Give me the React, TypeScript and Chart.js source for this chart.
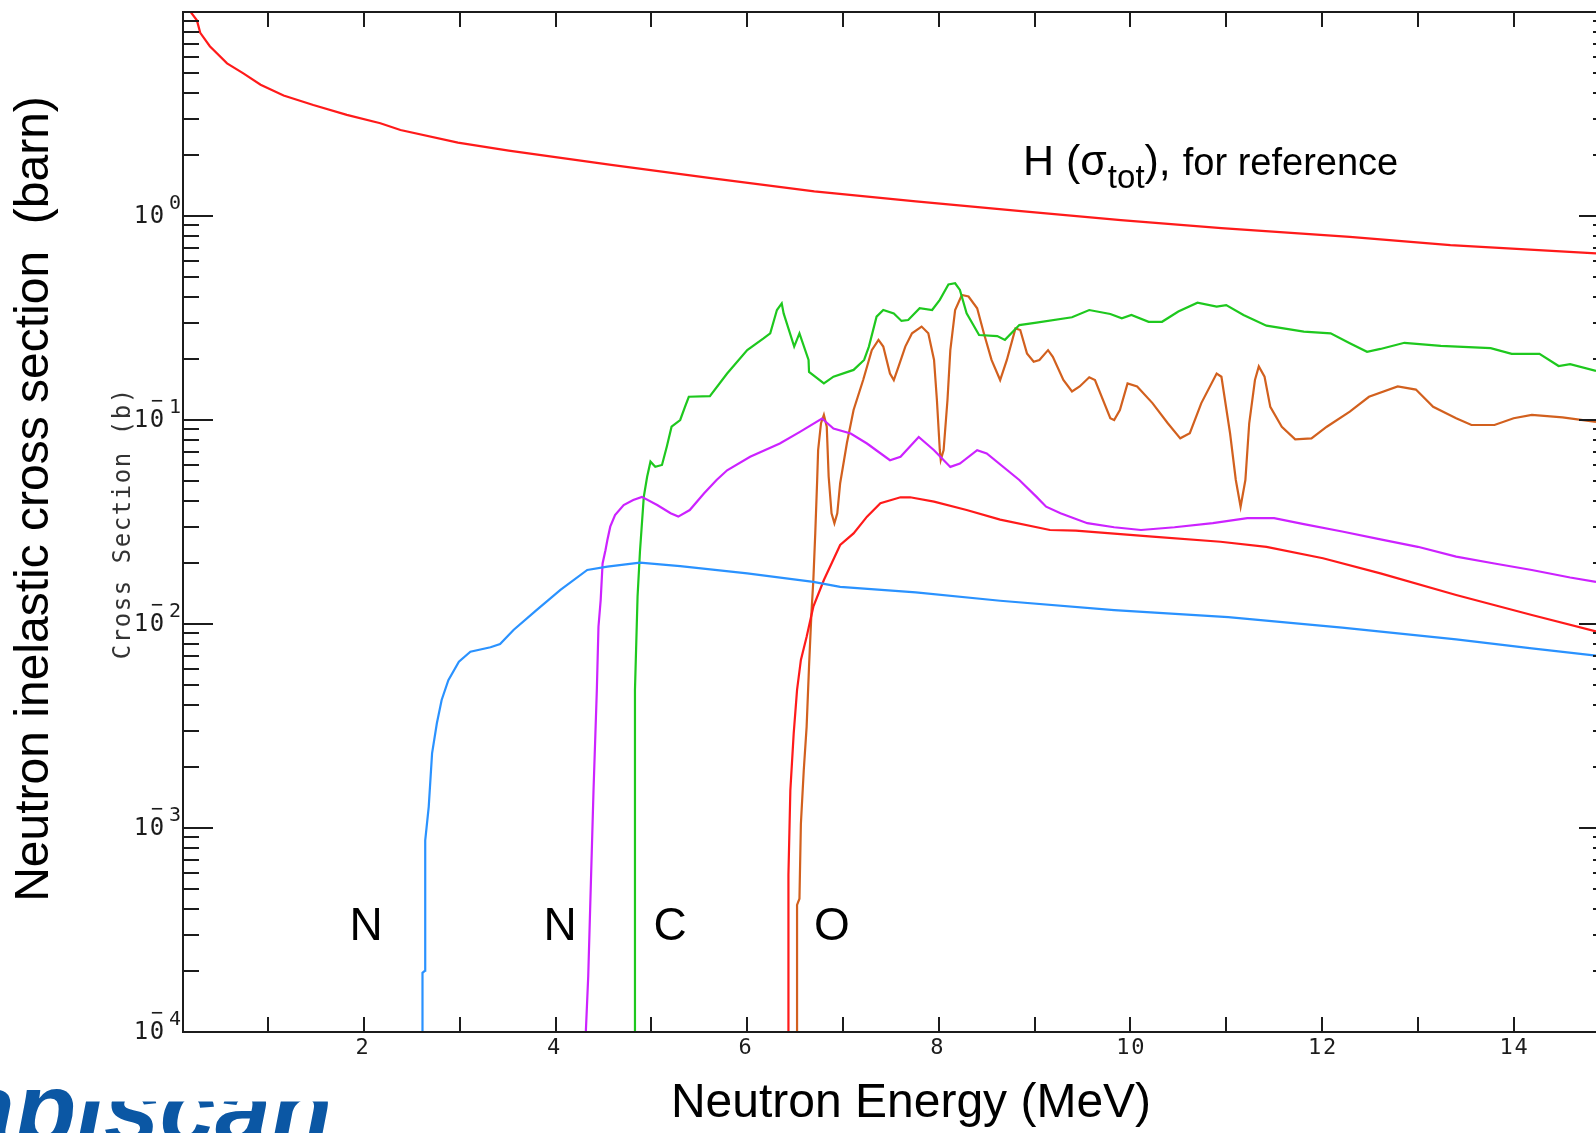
import React, { useEffect, useRef } from "react";
import { Chart, registerables } from "chart.js";

Chart.register(...registerables);

// ---------- axis ranges & ticks ----------
const X_MIN = 0.11;
const X_MAX = 14.86;
const Y_MIN = 1e-4;
const Y_MAX = 10;
const xTickValues = [1, 2, 3, 4, 5, 6, 7, 8, 9, 10, 11, 12, 13, 14];
const xTickLabels = ["2", "4", "6", "8", "10", "12", "14"];
const yDecadeExponents = [0, -1, -2, -3, -4];
const yMinorMantissas = [1, 2, 3, 4, 5, 6, 7, 8, 9];

// ---------- series: H total (reference) ----------
const hEnergy = [0.17, 0.19, 0.255, 0.29, 0.39, 0.57, 0.74, 0.92, 1.16, 1.47, 1.82, 2.17, 2.38, 2.98, 3.51, 4.58, 5.64, 6.7, 7.76, 8.83, 9.9, 10.95, 12.29, 13.34, 14.86];
const hSigma = [10.8, 10.0, 9.1, 7.9, 6.8, 5.6, 5.0, 4.4, 3.9, 3.5, 3.13, 2.85, 2.64, 2.29, 2.09, 1.78, 1.53, 1.32, 1.18, 1.06, 0.955, 0.873, 0.79, 0.72, 0.656];

// ---------- series: N (first, blue) ----------
const n1Energy = [2.61, 2.61, 2.637, 2.637, 2.64, 2.675, 2.71, 2.76, 2.81, 2.88, 2.99, 3.11, 3.32, 3.42, 3.56, 3.8, 4.05, 4.33, 4.54, 4.88, 5.3, 6.0, 6.69, 6.97, 7.76, 8.64, 9.83, 11.02, 12.21, 13.4, 14.19, 14.86];
const n1Sigma = [1e-5, 1.95e-4, 2.0e-4, 5.6e-4, 8.7e-4, 1.27e-3, 2.32e-3, 3.26e-3, 4.24e-3, 5.31e-3, 6.53e-3, 7.31e-3, 7.69e-3, 7.98e-3, 9.35e-3, 0.0117, 0.0147, 0.0184, 0.0191, 0.02, 0.0192, 0.0177, 0.0161, 0.0152, 0.0143, 0.013, 0.0117, 0.0108, 0.0096, 0.0084, 0.0076, 0.007];

// ---------- series: N (second, magenta) ----------
const n2Energy = [4.315, 4.315, 4.34, 4.36, 4.395, 4.43, 4.447, 4.47, 4.49, 4.52, 4.54, 4.57, 4.62, 4.71, 4.81, 4.9, 5.06, 5.2, 5.28, 5.4, 5.55, 5.68, 5.79, 6.03, 6.34, 6.55, 6.78, 6.9, 7.08, 7.25, 7.49, 7.6, 7.79, 7.95, 8.12, 8.22, 8.4, 8.5, 8.84, 9.02, 9.12, 9.27, 9.55, 9.83, 10.11, 10.46, 10.86, 11.22, 11.5, 11.81, 12.21, 12.61, 13.0, 13.4, 13.8, 14.19, 14.59, 14.86];
const n2Sigma = [1e-5, 1e-4, 1.87e-4, 4e-4, 1.51e-3, 4.75e-3, 9.7e-3, 0.0131, 0.0198, 0.023, 0.0258, 0.03, 0.0342, 0.0383, 0.0405, 0.042, 0.0383, 0.0349, 0.0336, 0.0362, 0.0437, 0.0508, 0.0567, 0.066, 0.0767, 0.0875, 0.1017, 0.0908, 0.0859, 0.0767, 0.0635, 0.066, 0.0826, 0.0711, 0.0589, 0.0612, 0.0711, 0.0685, 0.0508, 0.042, 0.0376, 0.0349, 0.0312, 0.0298, 0.0289, 0.0298, 0.0312, 0.033, 0.033, 0.0309, 0.0284, 0.026, 0.0239, 0.0214, 0.0198, 0.0184, 0.0169, 0.0161];

// ---------- series: C (green) ----------
const cEnergy = [4.82, 4.828, 4.855, 4.88, 4.92, 4.955, 4.99, 5.04, 5.11, 5.16, 5.21, 5.3, 5.35, 5.39, 5.61, 5.79, 6.0, 6.17, 6.24, 6.31, 6.36, 6.38, 6.49, 6.545, 6.64, 6.645, 6.8, 6.9, 7.11, 7.22, 7.27, 7.35, 7.42, 7.53, 7.61, 7.68, 7.8, 7.93, 8.01, 8.1, 8.17, 8.22, 8.29, 8.42, 8.61, 8.69, 8.84, 9.02, 9.39, 9.57, 9.79, 9.91, 10.01, 10.19, 10.33, 10.5, 10.7, 10.9, 11.0, 11.18, 11.42, 11.81, 12.09, 12.29, 12.47, 12.61, 12.86, 13.24, 13.76, 13.98, 14.27, 14.47, 14.59, 14.86];
const cSigma = [1e-5, 4.75e-3, 0.0136, 0.0226, 0.042, 0.0527, 0.0625, 0.059, 0.0602, 0.074, 0.0927, 0.1, 0.116, 0.13, 0.131, 0.169, 0.22, 0.251, 0.266, 0.346, 0.373, 0.333, 0.229, 0.266, 0.197, 0.172, 0.151, 0.163, 0.176, 0.197, 0.229, 0.321, 0.346, 0.333, 0.306, 0.309, 0.353, 0.346, 0.388, 0.462, 0.468, 0.434, 0.333, 0.261, 0.258, 0.247, 0.292, 0.3, 0.319, 0.346, 0.331, 0.315, 0.327, 0.303, 0.303, 0.34, 0.376, 0.36, 0.366, 0.327, 0.29, 0.271, 0.266, 0.238, 0.216, 0.223, 0.239, 0.231, 0.225, 0.211, 0.211, 0.184, 0.188, 0.174];

// ---------- series: O (first, red) ----------
const o1Energy = [6.43, 6.43, 6.45, 6.485, 6.52, 6.56, 6.62, 6.69, 6.8, 6.97, 7.11, 7.25, 7.39, 7.6, 7.7, 7.95, 8.29, 8.64, 9.16, 9.43, 10.23, 10.94, 11.42, 12.01, 12.61, 13.4, 14.19, 14.86];
const o1Sigma = [1e-5, 5.9e-4, 1.53e-3, 2.91e-3, 4.75e-3, 6.67e-3, 8.67e-3, 0.01216, 0.01643, 0.0244, 0.0278, 0.0336, 0.0391, 0.0418, 0.0418, 0.0398, 0.0362, 0.0325, 0.0289, 0.0287, 0.0268, 0.0253, 0.0239, 0.021, 0.0177, 0.01387, 0.01107, 0.0092];

// ---------- series: O (second, brown) ----------
const o2Energy = [6.52, 6.52, 6.545, 6.56, 6.59, 6.62, 6.645, 6.67, 6.69, 6.71, 6.73, 6.74, 6.77, 6.8, 6.83, 6.85, 6.88, 6.91, 6.94, 6.97, 7.04, 7.11, 7.21, 7.3, 7.37, 7.42, 7.49, 7.53, 7.58, 7.65, 7.72, 7.82, 7.89, 7.95, 7.98, 8.01, 8.02, 8.05, 8.09, 8.12, 8.17, 8.24, 8.31, 8.4, 8.47, 8.55, 8.64, 8.71, 8.8, 8.85, 8.92, 8.99, 9.05, 9.14, 9.19, 9.3, 9.39, 9.47, 9.57, 9.63, 9.79, 9.83, 9.89, 9.97, 10.07, 10.23, 10.39, 10.52, 10.62, 10.74, 10.9, 10.95, 11.04, 11.1, 11.15, 11.2, 11.24, 11.3, 11.34, 11.4, 11.46, 11.58, 11.72, 11.89, 12.05, 12.29, 12.49, 12.79, 12.98, 13.16, 13.4, 13.56, 13.8, 14.0, 14.19, 14.51, 14.86];
const o2Sigma = [1e-5, 4.2e-4, 4.5e-4, 1.05e-3, 1.92e-3, 3.14e-3, 6.18e-3, 0.01128, 0.0164, 0.0278, 0.0508, 0.0713, 0.0964, 0.106, 0.0927, 0.0527, 0.0349, 0.0312, 0.0349, 0.049, 0.0769, 0.112, 0.157, 0.22, 0.247, 0.229, 0.169, 0.157, 0.183, 0.229, 0.266, 0.287, 0.266, 0.197, 0.125, 0.0713, 0.0637, 0.0713, 0.125, 0.22, 0.346, 0.41, 0.403, 0.353, 0.266, 0.197, 0.157, 0.197, 0.281, 0.276, 0.212, 0.193, 0.197, 0.22, 0.204, 0.157, 0.138, 0.146, 0.162, 0.157, 0.102, 0.1, 0.112, 0.151, 0.146, 0.121, 0.0964, 0.0813, 0.0861, 0.121, 0.169, 0.163, 0.0861, 0.0508, 0.0376, 0.0508, 0.0964, 0.157, 0.183, 0.163, 0.116, 0.0927, 0.0804, 0.0813, 0.0927, 0.11, 0.13, 0.146, 0.141, 0.116, 0.102, 0.0945, 0.0945, 0.102, 0.106, 0.103, 0.098];

// ---------- texts ----------
const yAxisTitle = "Neutron inelastic cross section  (barn)";
const xAxisTitle = "Neutron Energy (MeV)";
const innerYTitle = "Cross Section (b)";
const elementLabels = ["N", "N", "C", "O"];
const logoText = "Rapiscan";

const zip = (xs: number[], ys: number[]) => xs.map((x, i) => ({ x, y: ys[i] }));

const MONO = '"DejaVu Sans Mono", monospace';
const SANS = '"Liberation Sans", Arial, sans-serif';

const decorPlugin = {
  id: "decor",
  afterDraw(chart: any) {
    const ctx = chart.ctx as CanvasRenderingContext2D;
    const { left, right, top, bottom } = chart.chartArea;
    const xs = chart.scales.x;
    const ys = chart.scales.y;
    ctx.save();
    ctx.strokeStyle = "#1c1c1c";
    ctx.fillStyle = "#1c1c1c";
    ctx.lineWidth = 2;
    // frame
    ctx.beginPath();
    ctx.moveTo(left, top);
    ctx.lineTo(right + 2, top);
    ctx.moveTo(left, bottom);
    ctx.lineTo(right + 2, bottom);
    ctx.moveTo(left, top - 1);
    ctx.lineTo(left, bottom + 1);
    ctx.stroke();
    // x ticks
    ctx.beginPath();
    xTickValues.forEach((v) => {
      const px = Math.round(xs.getPixelForValue(v));
      ctx.moveTo(px, top);
      ctx.lineTo(px, top + 15);
      ctx.moveTo(px, bottom);
      ctx.lineTo(px, bottom - 15);
    });
    ctx.stroke();
    // y ticks
    ctx.beginPath();
    yDecadeExponents.forEach((k) => {
      yMinorMantissas.forEach((m) => {
        const v = m * Math.pow(10, k);
        if (v > Y_MAX) return;
        const py = Math.round(ys.getPixelForValue(v));
        const len = m === 1 ? 30 : 16;
        ctx.moveTo(left, py);
        ctx.lineTo(left + len, py);
        const rlen = m === 1 ? 17 : 3;
        ctx.moveTo(right, py);
        ctx.lineTo(right - rlen, py);
      });
    });
    ctx.stroke();
    // y tick labels
    ctx.textAlign = "center";
    ctx.textBaseline = "middle";
    yDecadeExponents.forEach((k) => {
      const py = ys.getPixelForValue(Math.pow(10, k));
      ctx.font = `24px ${MONO}`;
      ctx.fillText("1", 141, py + 1);
      ctx.fillText("0", 157, py + 1);
      ctx.font = `20px ${MONO}`;
      ctx.fillText(String(Math.abs(k)), 175, py - 12);
      if (k < 0) ctx.fillText("\u2212", 157, py - 18);
    });
    // x tick labels
    ctx.font = `22px ${MONO}`;
    xTickLabels.forEach((lab) => {
      const px = xs.getPixelForValue(Number(lab));
      if (lab.length === 1) {
        ctx.fillText(lab, px - 2, 1048);
      } else {
        ctx.fillText(lab[0], px - 7.5, 1048);
        ctx.fillText(lab[1], px + 7.5, 1048);
      }
    });
    // inner "Cross Section (b)" title, rotated, char pitch 16
    ctx.save();
    ctx.translate(124, 524);
    ctx.rotate(-Math.PI / 2);
    ctx.font = `24px ${MONO}`;
    ctx.fillStyle = "#333";
    const pitch = 16;
    const startX = -((innerYTitle.length - 1) * pitch) / 2;
    for (let i = 0; i < innerYTitle.length; i++) {
      ctx.fillText(innerYTitle[i], startX + i * pitch, 0);
    }
    ctx.restore();

    // big axis titles
    ctx.fillStyle = "#000";
    ctx.font = `48px ${SANS}`;
    ctx.save();
    ctx.translate(35, 499);
    ctx.rotate(-Math.PI / 2);
    ctx.fillText(yAxisTitle, 0, 0);
    ctx.restore();
    ctx.fillText(xAxisTitle, 911, 1104);

    // element labels
    ctx.font = `46px ${SANS}`;
    const labelX = [366, 560, 670, 832];
    elementLabels.forEach((t, i) => ctx.fillText(t, labelX[i], 927));

    // H (σtot), for reference
    ctx.textAlign = "left";
    ctx.textBaseline = "alphabetic";
    let x = 1023;
    const base = 175;
    ctx.font = `43px ${SANS}`;
    ctx.fillText("H (σ", x, base);
    x += ctx.measureText("H (σ").width + 1;
    ctx.font = `33px ${SANS}`;
    ctx.fillText("tot", x, base + 13);
    x += ctx.measureText("tot").width;
    ctx.font = `43px ${SANS}`;
    ctx.fillText(")", x, base);
    x += ctx.measureText(")").width;
    ctx.fillText(",", x, base);
    x += ctx.measureText(", ").width;
    ctx.font = `38px ${SANS}`;
    ctx.fillText("for reference", x, base);

    // logo
    ctx.font = `italic bold 100px ${SANS}`;
    ctx.fillStyle = "#0b57a4";
    ctx.textAlign = "right";
    ctx.fillText(logoText, 332, 1143);
    ctx.fillStyle = "#ffffff";
    ctx.fillRect(75, 1055, 290, 46.5);
    ctx.restore();
  },
};

export default function App() {
  const canvasRef = useRef<HTMLCanvasElement | null>(null);
  useEffect(() => {
    if (!canvasRef.current) return;
    const mk = (data: { x: number; y: number }[], color: string) => ({
      data,
      borderColor: color,
      backgroundColor: color,
      borderWidth: 2.2,
      pointRadius: 0,
      fill: false,
      tension: 0,
    });
    const chart = new Chart(canvasRef.current, {
      type: "line",
      data: {
        datasets: [
          mk(zip(hEnergy, hSigma), "#ff1a1a"),
          mk(zip(n1Energy, n1Sigma), "#2a92ff"),
          mk(zip(n2Energy, n2Sigma), "#cc22ff"),
          mk(zip(cEnergy, cSigma), "#1ec81e"),
          mk(zip(o1Energy, o1Sigma), "#ff1a1a"),
          mk(zip(o2Energy, o2Sigma), "#d2601e"),
        ],
      },
      options: {
        animation: false,
        responsive: false,
        devicePixelRatio: 1,
        parsing: false as any,
        layout: { padding: { left: 183, top: 12, right: 0, bottom: 101 } },
        plugins: { legend: { display: false }, tooltip: { enabled: false } },
        scales: {
          x: { type: "linear", min: X_MIN, max: X_MAX, display: false },
          y: { type: "logarithmic", min: Y_MIN, max: Y_MAX, display: false },
        },
      },
      plugins: [decorPlugin],
    });
    return () => chart.destroy();
  }, []);
  return (
    <div style={{ position: "absolute", left: 0, top: 0, width: 1596, height: 1133, background: "#fff" }}>
      <canvas ref={canvasRef} width={1596} height={1133} />
    </div>
  );
}
